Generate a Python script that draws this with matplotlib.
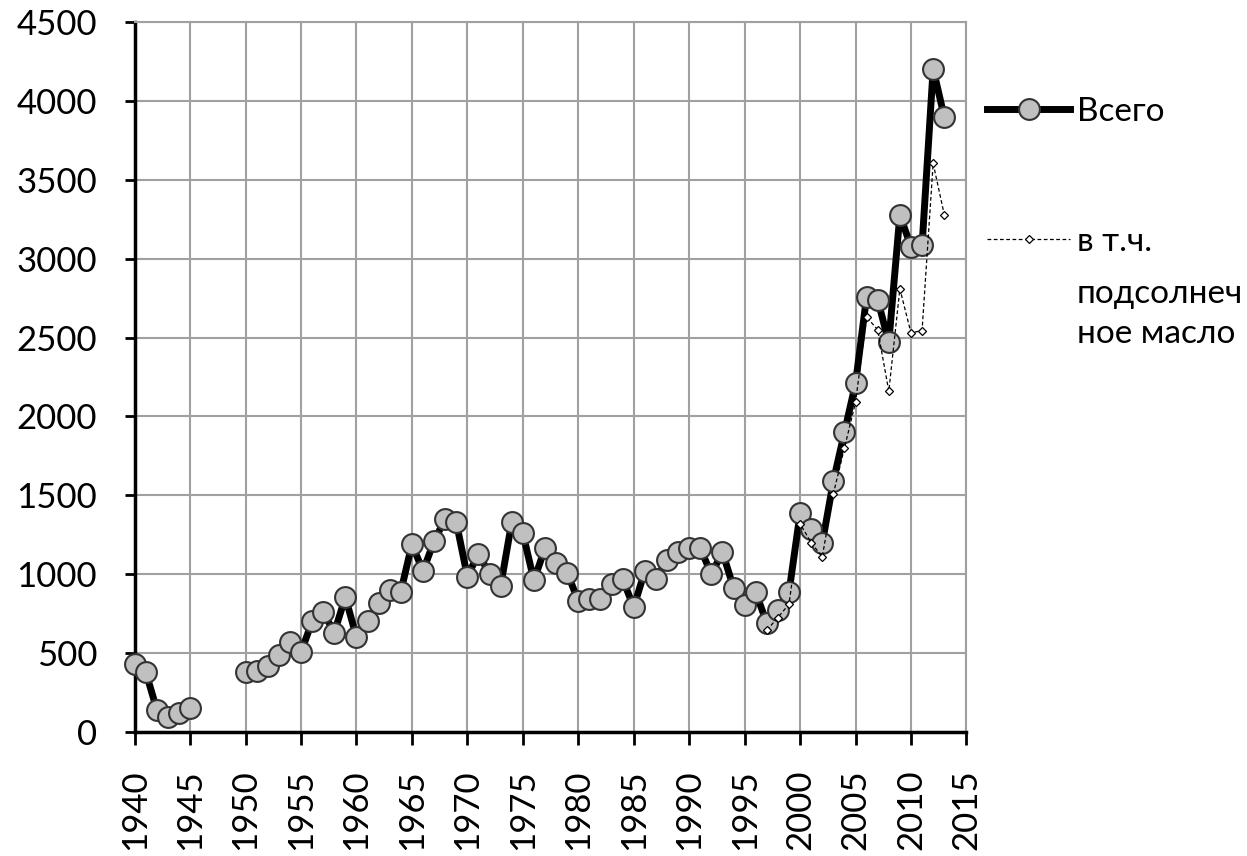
import numpy as np
import matplotlib.pyplot as plt

plt.rcParams['font.family'] = ['Lato', 'DejaVu Sans']

years_total = [1940, 1941, 1942, 1943, 1944, 1945,
               1950, 1951, 1952, 1953, 1954, 1955, 1956, 1957, 1958, 1959,
               1960, 1961, 1962, 1963, 1964, 1965, 1966, 1967, 1968, 1969,
               1970, 1971, 1972, 1973, 1974, 1975, 1976, 1977, 1978, 1979,
               1980, 1981, 1982, 1983, 1984, 1985, 1986, 1987, 1988, 1989,
               1990, 1991, 1992, 1993, 1994, 1995, 1996, 1997, 1998, 1999,
               2000, 2001, 2002, 2003, 2004, 2005, 2006, 2007, 2008, 2009,
               2010, 2011, 2012, 2013]
total = [430, 380, 140, 95, 120, 150,
         380, 385, 420, 490, 570, 505, 700, 760, 630, 855,
         600, 700, 820, 900, 890, 1190, 1020, 1210, 1350, 1330,
         985, 1130, 1000, 925, 1330, 1260, 960, 1165, 1070, 1010,
         830, 840, 840, 940, 970, 790, 1020, 970, 1090, 1140,
         1165, 1165, 1000, 1140, 915, 805, 885, 690, 775, 885,
         1385, 1285, 1195, 1590, 1900, 2210, 2760, 2740, 2470, 3280,
         3075, 3085, 4205, 3900]

years_sun = [1997, 1998, 1999, 2000, 2001, 2002, 2003, 2004, 2005, 2006,
             2007, 2008, 2009, 2010, 2011, 2012, 2013]
sunflower = [645, 725, 810, 1320, 1200, 1110, 1510, 1800, 2090, 2630,
             2550, 2160, 2810, 2530, 2545, 3605, 3280]

label_total = 'Всего'
label_sun = ['в т.ч.', 'подсолнеч', 'ное масло']

# NaN breaks the line over the 1946-1949 gap
all_years = np.arange(1940, 2014)
total_full = np.full(len(all_years), np.nan)
for y, v in zip(years_total, total):
    total_full[y - 1940] = v

fig = plt.figure(figsize=(12.47, 8.56), dpi=100)
ax = fig.add_axes([0.108, 0.145, 0.667, 0.829])

l1, = ax.plot(all_years, total_full, color='black', lw=5, marker='o', ms=15,
              mfc='#c0c0c0', mec='#333333', mew=1.5, label=label_total,
              zorder=3, clip_on=False)
l2, = ax.plot(years_sun, sunflower, color='black', lw=0.9, ls=(0, (3, 2)),
              marker='D', ms=4.5, mfc='white', mec='black', mew=0.9,
              label=label_sun[0], zorder=4)

ax.set_xlim(1940, 2015)
ax.set_ylim(0, 4500)
ax.set_xticks(range(1940, 2016, 5))
ax.set_yticks(range(0, 4501, 500))
ax.tick_params(axis='x', labelrotation=90, labelsize=25, direction='out',
               length=9, width=2, pad=18)
ax.tick_params(axis='y', labelsize=25, direction='out', length=7, width=2, pad=20)
ax.grid(True, color='#a0a0a0', lw=1.5)
ax.set_axisbelow(True)
for s in ['top', 'right']:
    ax.spines[s].set_color('#a0a0a0')
    ax.spines[s].set_linewidth(1.5)
for s in ['left', 'bottom']:
    ax.spines[s].set_linewidth(2.5)
    ax.spines[s].set_zorder(2.5)

fig.legend(handles=[l1, l2], loc='upper left', bbox_to_anchor=(0.7915, 0.887),
           frameon=False, fontsize=24, handlelength=2.5, handletextpad=0.2,
           borderpad=0, borderaxespad=0, labelspacing=3.0)
fig.text(0.8637, 0.633, '\n'.join(label_sun[1:]), fontsize=24,
         va='center', ha='left', linespacing=1.4)

fig.savefig('out.png', dpi=100)
